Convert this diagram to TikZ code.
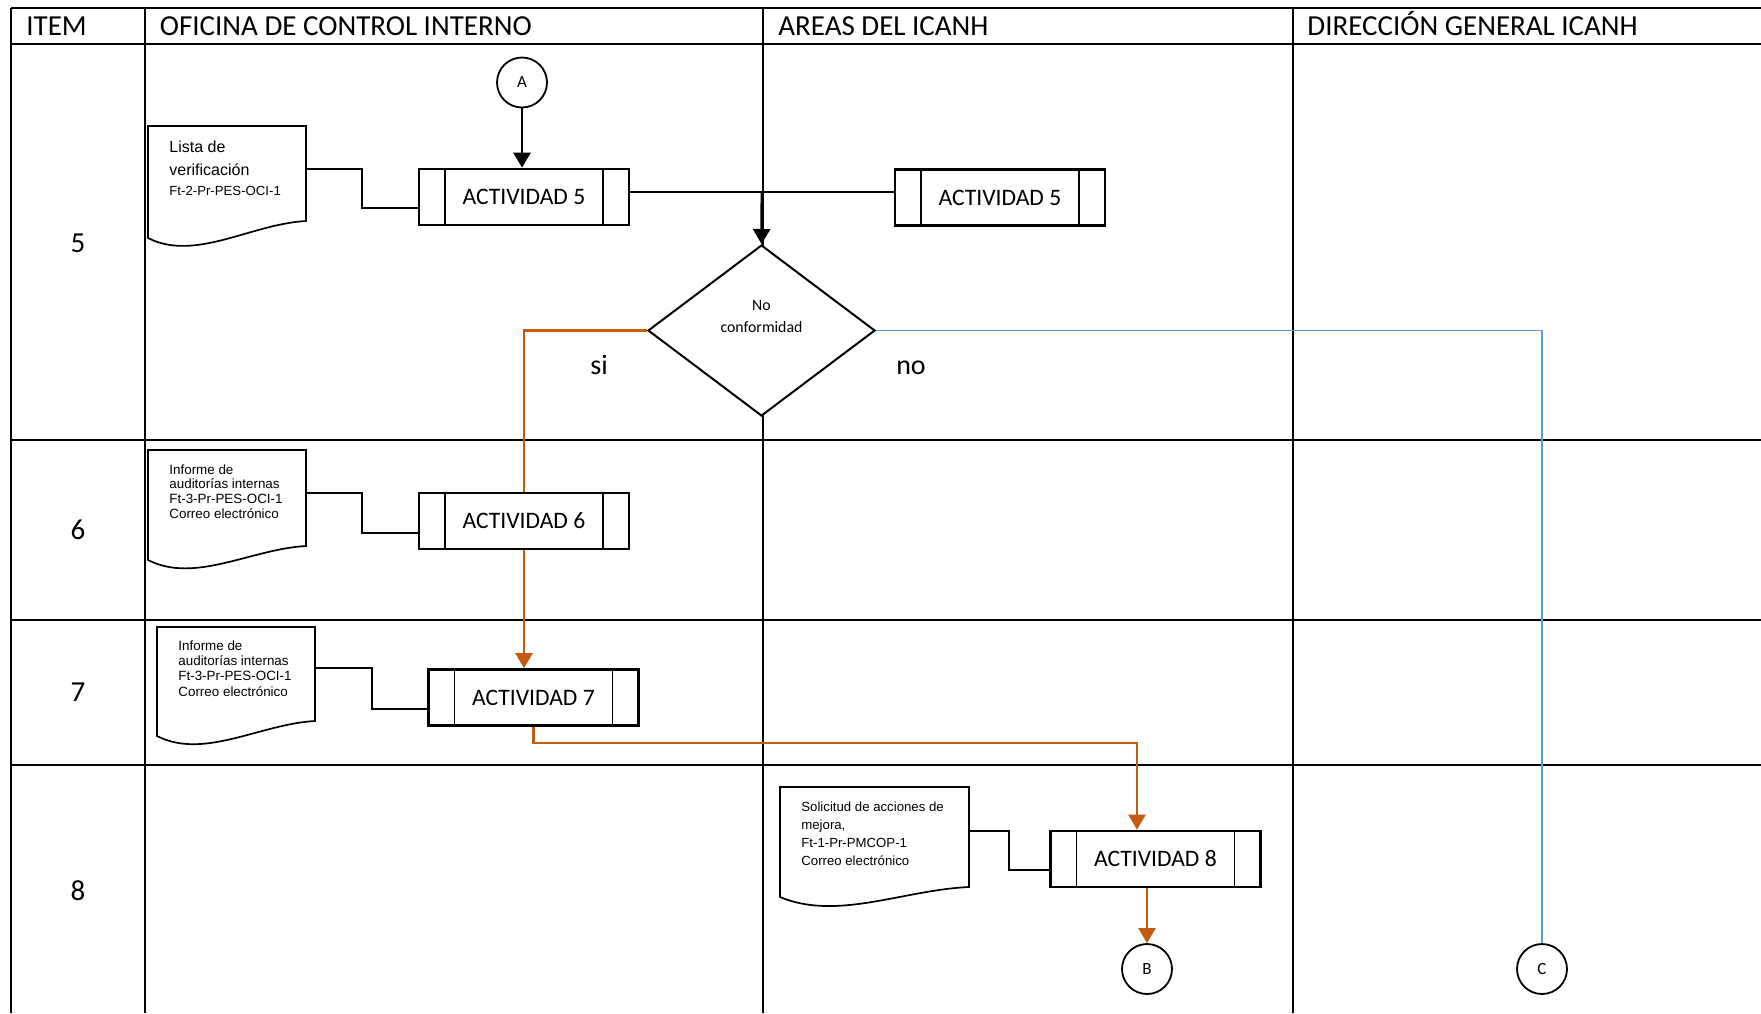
\documentclass[tikz,border=0pt]{standalone}
\usepackage{fontspec}
\setmainfont{Carlito}
\newfontfamily\docfont{Liberation Sans}
\usetikzlibrary{shapes.geometric,arrows.meta}
\definecolor{flowor}{RGB}{197,90,17}
\definecolor{flowbl}{RGB}{91,155,213}
\tikzset{
  gridline/.style={line width=1.3pt},
  head/.style={anchor=base west, inner sep=0pt, font=\fontsize{14.5}{17}\selectfont},
  itemno/.style={inner sep=0pt, font=\fontsize{14.5}{17}\selectfont},
  proc/.style={draw, line width=1.3pt, fill=white, minimum width=105pt,
    minimum height=28pt, inner sep=0pt, font=\fontsize{11.8}{14}\selectfont,
    path picture={\draw[line width=0.9pt]
      ([xshift=13pt]path picture bounding box.north west) --
      ([xshift=13pt]path picture bounding box.south west)
      ([xshift=-13pt]path picture bounding box.north east) --
      ([xshift=-13pt]path picture bounding box.south east);}},
  docshape/.style={draw, line width=0.85pt, fill=white},
  doctext/.style={anchor=north west, align=left, inner sep=0pt},
  conn/.style={circle, draw, line width=0.9pt, fill=white, minimum size=25pt,
    inner sep=0pt, font=\fontsize{8.5}{10}\selectfont},
  decision/.style={diamond, draw, line width=1pt, fill=white,
    minimum width=113.5pt, minimum height=85.5pt, inner sep=0pt},
  thickline/.style={line width=1.4pt},
  thinline/.style={line width=0.8pt},
  docline/.style={line width=0.9pt},
  orline/.style={line width=1.15pt, draw=flowor},
  blline/.style={line width=0.85pt, draw=flowbl},
  arrowhd/.style={-{Triangle[width=8.5pt,length=7.5pt]}},
  orhead/.style={-{Triangle[width=8.5pt,length=7.5pt,fill=flowor]}},
  lbl/.style={anchor=base, inner sep=0pt, font=\fontsize{14}{17}\selectfont}
}
\begin{document}
\begin{tikzpicture}[x=0.5pt,y=-0.5pt]
\useasboundingbox (0,0) rectangle (1761,1013);

% table frame
\foreach \yy in {8,44,440,620,765}
  \draw[gridline] (11,\yy) -- (1761,\yy);
\foreach \xx in {11,145,763,1293}
  \draw[gridline] (\xx,8) -- (\xx,1013);

% column headings
\node[head] (hitem) at (26,35) {ITEM};
\node[head] (hoci) at (159.5,35) {OFICINA DE CONTROL INTERNO};
\node[head] (hareas) at (778,35) {AREAS DEL ICANH};
\node[head] (hdir) at (1307,35) {DIRECCIÓN GENERAL ICANH};

% item numbers
\node[itemno] (i5) at (78,243) {5};
\node[itemno] (i6) at (78,530) {6};
\node[itemno] (i7) at (78,692) {7};
\node[itemno] (i8) at (78,891) {8};

% documents
\draw[docshape] (148,126) -- (306,126) -- (306,221)
  .. controls (251,224) and (195,262) .. (148,238) -- cycle;
\node[doctext, font=\docfont\fontsize{8}{11.5}\selectfont] (d1) at (169,140.5)
  {Lista de\\verificación\\[-1.5pt]{\fontsize{6.6}{8}\selectfont Ft-2-Pr-PES-OCI-1}};
\coordinate (d1o) at (306,169);

\draw[docshape] (148,450) -- (306,450) -- (306,546)
  .. controls (251,549) and (195,584) .. (148,560) -- cycle;
\node[doctext, font=\docfont\fontsize{6.7}{7.35}\selectfont] (d2) at (169,464)
  {Informe de\\auditorías internas\\Ft-3-Pr-PES-OCI-1\\Correo electrónico};
\coordinate (d2o) at (306,493);

\draw[docshape] (157,627) -- (315,627) -- (315,721)
  .. controls (260,724) and (204,760) .. (157,736) -- cycle;
\node[doctext, font=\docfont\fontsize{6.7}{7.65}\selectfont] (d3) at (178,640)
  {Informe de\\auditorías internas\\Ft-3-Pr-PES-OCI-1\\Correo electrónico};
\coordinate (d3o) at (315,668);

\draw[docshape] (780,787) -- (969,787) -- (969,887)
  .. controls (903,890) and (837,921) .. (780,897) -- cycle;
\node[doctext, font=\docfont\fontsize{6.6}{9}\selectfont] (d4) at (801,802)
  {Solicitud de acciones de\\mejora,\\Ft-1-Pr-PMCOP-1\\Correo electrónico};
\coordinate (d4o) at (969,831);

% activities
\node[proc] (a5) at (524,197) {ACTIVIDAD 5};
\node[proc] (a5b) at (1000,197.5) {ACTIVIDAD 5};
\node[proc] (a6) at (524,521) {ACTIVIDAD 6};
\node[proc] (a7) at (533.5,697.5) {ACTIVIDAD 7};
\node[proc] (a8) at (1155.5,859) {ACTIVIDAD 8};

% decision
\node[decision] (dec) at (761.5,330.5) {};
\node[anchor=north, align=center, inner sep=0pt, font=\fontsize{7.9}{11}\selectfont]
  (dect) at (761.5,300) {No\\conformidad};

% connectors (off-page references)
\node[conn] (ca) at (522,82.5) {A};
\node[conn] (cb) at (1147,969) {B};
\node[conn] (cc) at (1542,969) {C};

% document links
\draw[docline] (d1o) -- ++(56,0) |- ([yshift=-5.5pt]a5.west);
\draw[docline] (d2o) -- ++(56,0) |- ([yshift=-6pt]a6.west);
\draw[docline] (d3o) -- ++(57,0) |- ([yshift=-5.75pt]a7.west);
\draw[docline] (d4o) -- ++(40,0) |- ([yshift=-5.5pt]a8.west);

% main flow
\coordinate (j) at (762,192);
\draw[thickline, arrowhd] (ca.south) -- (ca.south |- a5.north);
\draw[thickline] (a5.east |- j) -- (j);
\draw[thinline] (a5b.west |- j) -- (j);
\draw[thickline, arrowhd] (j) -- (dec.north);

\draw[orline] (dec.west) -| (a6.north);
\draw[orline, orhead] (a6.south) -- (a6.south |- a7.north);
\draw[orline, orhead] (a7.south) -- ++(0,16) -| ([xshift=-9.25pt]a8.north);
\draw[orline, orhead] (cb.north |- a8.south) -- (cb.north);
\draw[blline] (dec.east) -| (cc.north);

% branch labels
\node[lbl] (lsi) at (599,374) {si};
\node[lbl] (lno) at (911,374) {no};
\end{tikzpicture}
\end{document}
